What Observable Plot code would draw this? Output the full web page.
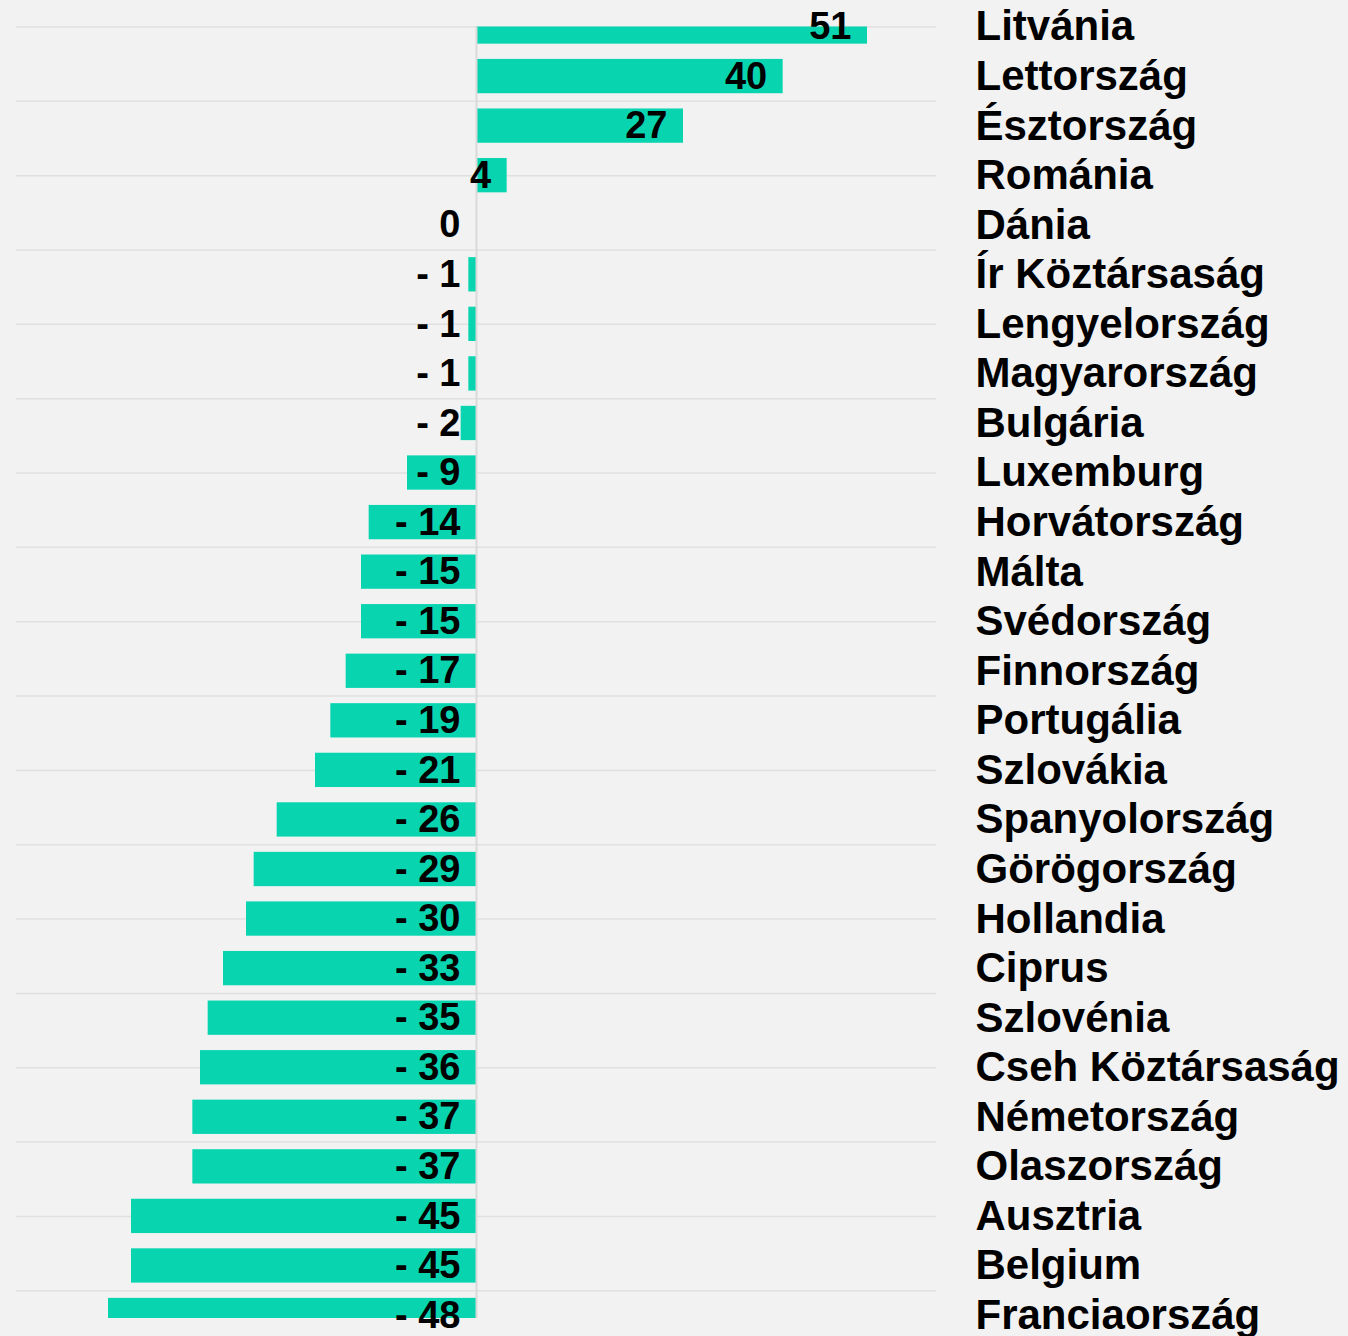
<!DOCTYPE html>
<html>
<head>
<meta charset="utf-8">
<script src="https://cdn.jsdelivr.net/npm/d3@7"></script>
<script src="https://cdn.jsdelivr.net/npm/@observablehq/plot@0.6"></script>
<style>
  html, body { margin: 0; padding: 0; background: #f2f2f2; }
  #chart svg { display: block; }
</style>
</head>
<body>
<div id="chart"></div>
<script>
const countries = [
  "Litvánia", "Lettország", "Észtország", "Románia", "Dánia",
  "Ír Köztársaság", "Lengyelország", "Magyarország", "Bulgária", "Luxemburg",
  "Horvátország", "Málta", "Svédország", "Finnország", "Portugália",
  "Szlovákia", "Spanyolország", "Görögország", "Hollandia", "Ciprus",
  "Szlovénia", "Cseh Köztársaság", "Németország", "Olaszország", "Ausztria",
  "Belgium", "Franciaország"
];
const values = [
  51, 40, 27, 4, 0,
  -1, -1, -1, -2, -9,
  -14, -15, -15, -17, -19,
  -21, -26, -29, -30, -33,
  -35, -36, -37, -37, -45,
  -45, -48
];
const gridRows = [0, 1.5, 3, 4.5, 6, 7.5, 9, 10.5, 12, 13.5, 15, 16.5, 18, 19.5, 21, 22.5, 24, 25.5];

const data = countries.map((c, i) => ({country: c, value: values[i], i}));
const half = 0.346;
const fmt = v => v < 0 ? `- ${-v}` : `${v}`;

const chart = Plot.plot({
  width: 1348,
  height: 1336,
  marginLeft: 16,
  marginRight: 412,
  marginTop: 26.5,
  marginBottom: 18,
  style: {background: "#f2f2f2", fontFamily: "'Liberation Sans', Arial, sans-serif", color: "#000", overflow: "visible"},
  x: {domain: [-60, 60], axis: null},
  y: {domain: [0, 26.06], axis: null, reverse: true},
  marks: [
    Plot.ruleY(gridRows, {stroke: "#e0e0e0", strokeWidth: 1.5}),
    Plot.rectX(data, {
      x1: 0, x2: "value",
      y1: d => d.i - half, y2: d => d.i + half,
      fill: "#08d5b0",
      clip: true
    }),
    Plot.ruleX([0], {stroke: "#d9d9d9", strokeWidth: 2}),
    Plot.text(data, {
      x: d => Math.max(d.value, 0),
      y: "i",
      text: d => fmt(d.value),
      textAnchor: "end",
      dx: -16,
      fontSize: 38,
      fontWeight: "bold",
      fill: "#000"
    }),
    Plot.text(data, {
      y: "i",
      frameAnchor: "right",
      text: "country",
      textAnchor: "start",
      dx: 39,
      fontSize: 42,
      fontWeight: "bold",
      fill: "#000"
    })
  ]
});
document.getElementById("chart").appendChild(chart);
</script>
</body>
</html>
